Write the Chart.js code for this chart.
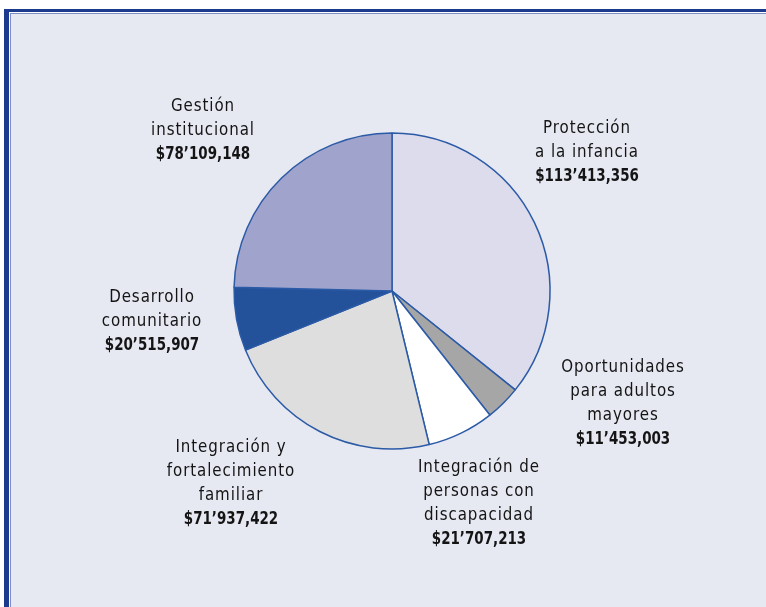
<!DOCTYPE html>
<html lang="es">
<head>
  <meta charset="UTF-8">
  <title>Distribución del presupuesto</title>
  <script src="https://cdn.jsdelivr.net/npm/chart.js@4.4.0/dist/chart.umd.min.js"></script>
  <style>
    * { margin: 0; padding: 0; box-sizing: border-box; }
    html, body { width: 766px; height: 607px; overflow: hidden; background: #ffffff; }

    .marco {
      position: absolute;
      left: 4px;
      top: 9px;
      width: 800px;
      height: 700px;
      border-left: 5px solid #1d3b8e;
      border-top: 3px solid #1d3b8e;
      background: #ffffff;
    }

    .marco .interior {
      position: absolute;
      left: 1px;
      top: 1px;
      right: 0;
      bottom: 0;
      border-left: 1px solid #7d8dc2;
      border-top: 1px solid #7d8dc2;
      background: #e6e8f2;
    }

    .chart-container {
      position: absolute;
      left: 0;
      top: 0;
      width: 766px;
      height: 607px;
    }
  </style>
</head>
<body>
  <div class="marco"><div class="interior"></div></div>
  <div class="chart-container">
    <canvas id="chartPresupuesto"></canvas>
  </div>

  <script>
    // Datos
    const categorias = [
      ['Protección', 'a la infancia'],
      ['Oportunidades', 'para adultos', 'mayores'],
      ['Integración de', 'personas con', 'discapacidad'],
      ['Integración y', 'fortalecimiento', 'familiar'],
      ['Desarrollo', 'comunitario'],
      ['Gestión', 'institucional']
    ];
    const montos = [113413356, 11453003, 21707213, 71937422, 20515907, 78109148];
    const montosTexto = ['$113’413,356', '$11’453,003', '$21’707,213', '$71’937,422', '$20’515,907', '$78’109,148'];

    // Estilo
    const colores = ['#dcdcec', '#a6a6a6', '#ffffff', '#dedede', '#23529a', '#a0a4cc'];
    // centro x / y de la primera línea de cada etiqueta
    const posEtiquetas = [[587, 128], [623, 367], [479, 467], [231, 447], [152, 297], [203, 106]];
    const interlinea = 24;
    const fuente = "'DejaVu Sans Condensed', 'DejaVu Sans', sans-serif";

    // texto comprimido a lo ancho, como la tipografía condensada del original
    function textoAngosto(ctx, t, x, y, escala) {
      ctx.save();
      ctx.translate(x, y);
      ctx.scale(escala, 1);
      ctx.fillText(t, 0, 0);
      ctx.restore();
    }

    const etiquetas = {
      id: 'etiquetas',
      afterDraw(chart) {
        const ctx = chart.ctx;
        ctx.save();
        ctx.textAlign = 'center';
        ctx.textBaseline = 'middle';
        ctx.fillStyle = '#141414';
        categorias.forEach((lineas, i) => {
          const [x, y] = posEtiquetas[i];
          ctx.font = '18px ' + fuente;
          ctx.letterSpacing = '1px';
          lineas.forEach((t, j) => textoAngosto(ctx, t, x, y + j * interlinea, 0.93));
          ctx.font = 'bold 18px ' + fuente;
          ctx.letterSpacing = '0px';
          textoAngosto(ctx, montosTexto[i], x, y + lineas.length * interlinea, 0.83);
        });
        ctx.restore();
      }
    };

    new Chart(document.getElementById('chartPresupuesto'), {
      type: 'pie',
      data: {
        labels: categorias.map(l => l.join(' ')),
        datasets: [{
          data: montos,
          backgroundColor: colores,
          borderColor: '#2b5aa6',
          borderWidth: 1.5,
          radius: 158
        }]
      },
      options: {
        responsive: true,
        maintainAspectRatio: false,
        animation: false,
        layout: { padding: { left: 18, right: 0, top: 0, bottom: 25 } },
        plugins: {
          legend: { display: false },
          tooltip: { enabled: false }
        }
      },
      plugins: [etiquetas]
    });
  </script>
</body>
</html>
